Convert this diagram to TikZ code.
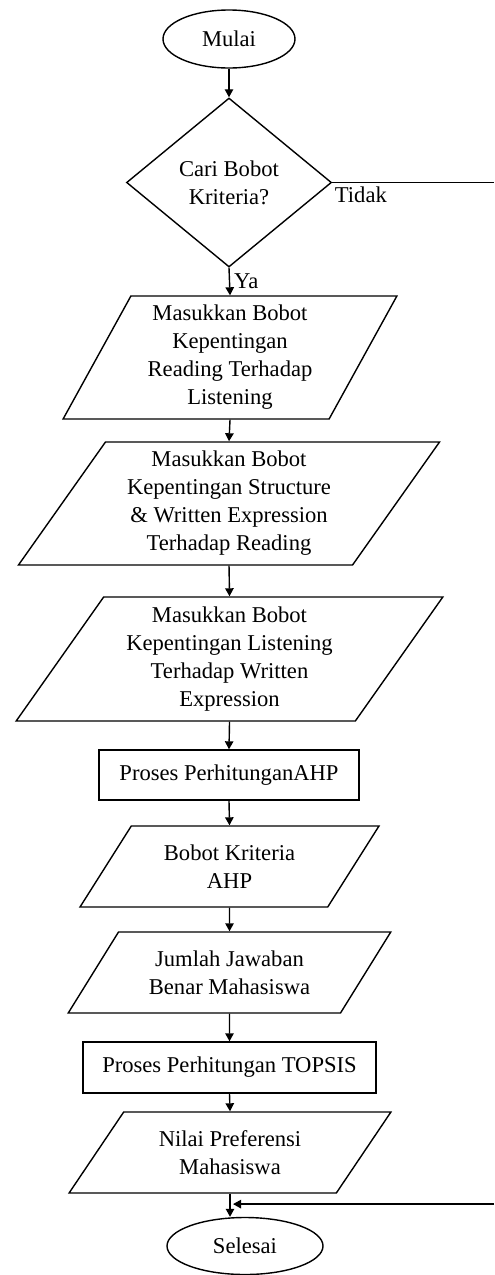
\documentclass[tikz,border=0pt]{standalone}
\usepackage{fontspec}
\setmainfont{Liberation Serif}
\usetikzlibrary{arrows.meta,shapes.geometric,calc}

\begin{document}
\begin{tikzpicture}[x=0.5pt,y=-0.5pt,
  font=\fontsize{11.3}{14}\selectfont,
  fc_line/.style={line width=0.7pt,draw=black},
  fc_arrow/.style={fc_line,>={Triangle[length=4pt,width=4.2pt]},->},
  fc_term/.style={ellipse,fc_line,inner sep=1pt},
  fc_dec/.style={diamond,fc_line,align=center,inner sep=1pt,shape aspect=1.2},
  fc_proc/.style={rectangle,fc_line,inner sep=1pt},
  fc_io/.style={trapezium,fc_line,align=center,inner sep=1pt,trapezium stretches=true}]

\useasboundingbox (0,0) rectangle (494,1275);

% start and decision
\node[fc_term,minimum width=66pt,minimum height=29pt] (mulai) at (229,39) {Mulai};
\node[fc_dec,minimum width=102.5pt,minimum height=84.5pt] (cari) at (229,182.5) {Cari Bobot\\Kriteria?};

% input of the weights
\node[fc_io,trapezium left angle=62,trapezium right angle=118,minimum width=167pt,minimum height=61.5pt] (bobot_rl) at (230,357.5)
  {Masukkan Bobot\\Kepentingan\\Reading Terhadap\\Listening};
\node[fc_io,trapezium left angle=56,trapezium right angle=124,minimum width=211pt,minimum height=61.5pt] (bobot_sw) at (229,503.5)
  {Masukkan Bobot\\Kepentingan Structure\\\& Written Expression\\Terhadap Reading};
\node[fc_io,trapezium left angle=56,trapezium right angle=124,minimum width=213.5pt,minimum height=62pt] (bobot_lw) at (229.5,659)
  {Masukkan Bobot\\Kepentingan Listening\\Terhadap Written\\Expression};

% AHP
\node[fc_proc,minimum width=130pt,minimum height=25pt] (proses_ahp) at (229,775) {Proses PerhitunganAHP};
\node[fc_io,trapezium left angle=53.5,trapezium right angle=126.5,minimum width=149.5pt,minimum height=40.5pt] (krit_ahp) at (229.5,866.5)
  {Bobot Kriteria\\AHP};

% TOPSIS
\node[fc_io,trapezium left angle=52,trapezium right angle=128,minimum width=161.5pt,minimum height=40.5pt] (jawaban) at (229.5,972.5)
  {Jumlah Jawaban\\Benar Mahasiswa};
\node[fc_proc,minimum width=146.5pt,minimum height=25.5pt] (proses_topsis) at (229.5,1067.5) {Proses Perhitungan TOPSIS};
\node[fc_io,trapezium left angle=52,trapezium right angle=128,minimum width=161pt,minimum height=40.5pt] (nilai) at (230,1152.5)
  {Nilai Preferensi\\Mahasiswa};

% end
\node[fc_term,minimum width=78pt,minimum height=28.5pt] (selesai) at (245,1246) {Selesai};

% connectors
\draw[fc_arrow] (mulai) -- (cari);
\draw[fc_arrow] (cari.south) -- (bobot_rl.north) node[midway,right,inner sep=1pt,xshift=1pt] {Ya};
\draw[fc_arrow] (bobot_rl.south) -- (bobot_sw.north);
\draw[fc_arrow] (bobot_sw.south) -- (bobot_lw.north);
\draw[fc_arrow] (bobot_lw.south) -- (proses_ahp.north);
\draw[fc_arrow] (proses_ahp.south) -- (krit_ahp.north);
\draw[fc_arrow] (krit_ahp.south) -- (jawaban.north);
\draw[fc_arrow] (jawaban.south) -- (proses_topsis.north);
\draw[fc_arrow] (proses_topsis.south) -- (nilai.north);
\draw[fc_arrow] (nilai.south) -- (nilai.south |- selesai.north);

% "Tidak" branch, runs off the right edge
\coordinate (tepi) at (494,0);
\draw[fc_line] (cari.east) -- (cari.east -| tepi) node[pos=0,below right,inner sep=1pt,yshift=-1pt] {Tidak};
\coordinate (gabung) at ($(nilai.south)!0.45!(nilai.south |- selesai.north)$);
\draw[fc_arrow] (gabung -| tepi) -- ([xshift=1.5pt]gabung);

\end{tikzpicture}
\end{document}
